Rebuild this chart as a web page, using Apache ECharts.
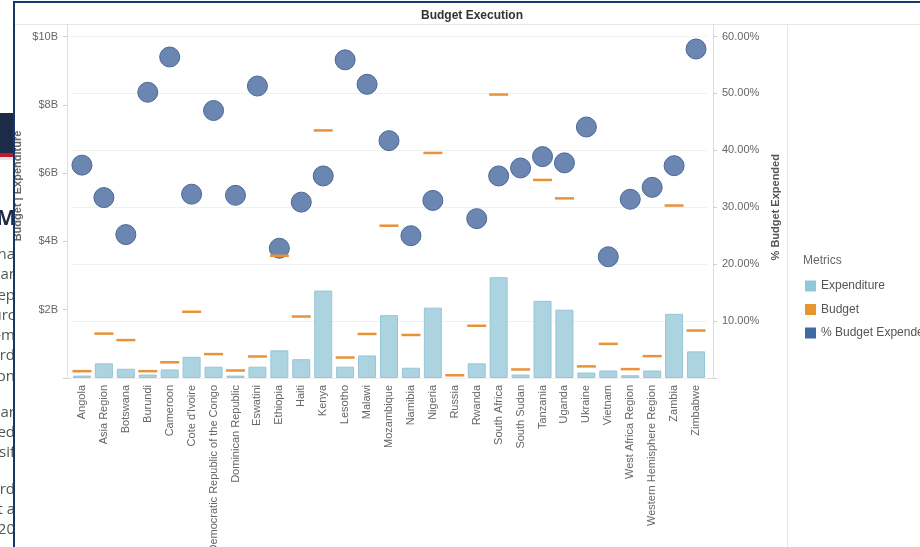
<!DOCTYPE html>
<html>
<head>
<meta charset="utf-8">
<script src="https://cdn.jsdelivr.net/npm/echarts@6/dist/echarts.min.js"></script>
<style>
  html, body { margin: 0; padding: 0; background: #fff; overflow: hidden; }
  #chart { position: absolute; left: 0; top: 0; width: 920px; height: 547px; }
  #strip { position: absolute; left: 0; top: 0; width: 13px; height: 547px; overflow: hidden; background: #fff; z-index: 5; }
  #strip .navy { position: absolute; left: 0; top: 113px; width: 13px; height: 40px; background: #1c2b48; }
  #strip .red { position: absolute; left: 0; top: 153px; width: 13px; height: 4px; background: #c0172d; }
  #strip .grey { position: absolute; left: 0; top: 157px; width: 13px; height: 3px; background: #e4e4e4; }
  #strip .ln { position: absolute; right: -2px; white-space: nowrap; font-family: "Open Sans", sans-serif; font-size: 15px; color: #555; line-height: 20px; }
  #strip .big { position: absolute; right: -3px; top: 205px; white-space: nowrap; font-family: "Open Sans", sans-serif; font-size: 21px; font-weight: 700; color: #1c2b48; line-height: 24px; }
  .frameV { position: absolute; left: 13px; top: 1px; width: 2px; height: 546px; background: #17366b; z-index: 6; }
  .frameH { position: absolute; left: 13px; top: 1px; width: 907px; height: 2px; background: #17366b; z-index: 6; }
  .behind { position: absolute; left: 17px; top: 186px; width: 0; height: 0; z-index: 4; }
  .behind span { position: absolute; left: 0; top: 0; transform: translate(-50%, -50%) rotate(-90deg); white-space: nowrap; font-family: "Liberation Sans", Arial, sans-serif; font-size: 11px; font-weight: 700; color: #666; }
</style>
</head>
<body>
<div id="chart"></div>
<div class="behind"><span>Budget | Expenditure</span></div>
<div id="strip">
  <div class="navy"></div><div class="red"></div><div class="grey"></div>
  <div class="big">M</div>
  <div class="ln" style="top:243px">na</div>
  <div class="ln" style="top:263px">lar</div>
  <div class="ln" style="top:284px">ep</div>
  <div class="ln" style="top:304px">urc</div>
  <div class="ln" style="top:324px">-m</div>
  <div class="ln" style="top:344px">rd</div>
  <div class="ln" style="top:365px">on</div>
  <div class="ln" style="top:401px">par</div>
  <div class="ln" style="top:421px">ed</div>
  <div class="ln" style="top:441px">sif</div>
  <div class="ln" style="top:478px">rd</div>
  <div class="ln" style="top:498px">t a</div>
  <div class="ln" style="top:518px">20</div>
</div>
<div class="frameV"></div>
<div class="frameH"></div>
<script>
// ---- data ----
var categories = ["Angola", "Asia Region", "Botswana", "Burundi", "Cameroon", "Cote d'Ivoire",
  "Democratic Republic of the Congo", "Dominican Republic", "Eswatini", "Ethiopia", "Haiti", "Kenya",
  "Lesotho", "Malawi", "Mozambique", "Namibia", "Nigeria", "Russia", "Rwanda", "South Africa",
  "South Sudan", "Tanzania", "Uganda", "Ukraine", "Vietnam", "West Africa Region",
  "Western Hemisphere Region", "Zambia", "Zimbabwe"];
// Expenditure, in billions of dollars
var expenditure = [0.07, 0.43, 0.27, 0.10, 0.25, 0.62, 0.33, 0.07, 0.33, 0.81, 0.55, 2.56,
  0.33, 0.66, 1.84, 0.30, 2.06, null, 0.43, 2.95, 0.10, 2.26, 2.00, 0.16, 0.22, 0.08, 0.22, 1.88, 0.78];
// Budget, in billions of dollars
var budget = [0.20, 1.30, 1.11, 0.20, 0.46, 1.94, 0.70, 0.22, 0.63, 3.58, 1.80, 7.25,
  0.60, 1.29, 4.46, 1.26, 6.59, 0.08, 1.53, 8.30, 0.25, 5.80, 5.26, 0.34, 1.00, 0.26, 0.64, 5.05, 1.39];
// % Budget Expended
var pctExpended = [37.4, 31.7, 25.2, 50.2, 56.4, 32.3, 47.0, 32.1, 51.3, 22.8, 30.9, 35.5,
  55.9, 51.6, 41.7, 25.0, 31.2, null, 28.0, 35.5, 36.9, 38.9, 37.8, 44.1, 21.3, 31.4, 33.5, 37.3, 57.8];
var leftTicks = { min: 0, max: 10, interval: 2 };   // $B
var rightTicks = { min: 0, max: 60, interval: 10 }; // %

var FONT = '"Liberation Sans", Arial, sans-serif';
var chart = echarts.init(document.getElementById('chart'), null, { renderer: 'canvas' });
var lineStyle = { stroke: '#dedede', lineWidth: 1 };
chart.setOption({
  animation: false,
  backgroundColor: '#fff',
  textStyle: { fontFamily: FONT },
  title: {
    text: 'Budget Execution', left: 467, top: 5, textAlign: 'center',
    textStyle: { fontFamily: FONT, fontSize: 12, fontWeight: 'bold', color: '#333' }
  },
  grid: { left: 71, right: 213, top: 36.5, bottom: 169, containLabel: false, outerBoundsMode: 'none' },
  legend: {
    orient: 'vertical', left: 805, top: 280, padding: 0, itemWidth: 11, itemHeight: 11, itemGap: 11.5,
    icon: 'rect', selectedMode: false,
    textStyle: { fontFamily: FONT, fontSize: 12, color: '#555' },
    data: [
      { name: 'Expenditure', itemStyle: { color: '#92c6da', borderWidth: 0 } },
      { name: 'Budget', itemStyle: { color: '#e8952e', borderWidth: 0 } },
      { name: '% Budget Expended', itemStyle: { color: '#3d6aa1', borderWidth: 0 } }
    ]
  },
  graphic: [
    { type: 'line', shape: { x1: 15, y1: 24.5, x2: 920, y2: 24.5 }, style: { stroke: '#e6e6e6', lineWidth: 1 }, silent: true },
    { type: 'line', shape: { x1: 67.5, y1: 24, x2: 67.5, y2: 379 }, style: lineStyle, silent: true },
    { type: 'line', shape: { x1: 713.5, y1: 24, x2: 713.5, y2: 379 }, style: lineStyle, silent: true },
    { type: 'line', shape: { x1: 67, y1: 378.5, x2: 714, y2: 378.5 }, style: lineStyle, silent: true },
    { type: 'line', shape: { x1: 787.5, y1: 24, x2: 787.5, y2: 547 }, style: { stroke: '#e6e6e6', lineWidth: 1 }, silent: true },
    { type: 'text', left: 803, top: 255, style: { text: 'Metrics', font: '12px ' + FONT, fill: '#666' }, silent: true }
  ],
  xAxis: {
    type: 'category', data: categories, boundaryGap: true,
    axisLine: { show: false }, axisTick: { show: false },
    axisLabel: { rotate: 90, interval: 0, margin: 7, fontSize: 11, color: '#666', fontFamily: FONT }
  },
  yAxis: [
    {
      type: 'value', min: leftTicks.min, max: leftTicks.max, interval: leftTicks.interval, offset: 4,
      axisLine: { show: false }, splitLine: { show: false },
      axisTick: { show: true, length: 4, lineStyle: { color: '#d0d0d0' } },
      axisLabel: { margin: 9, fontSize: 11, color: '#666', fontFamily: FONT,
        formatter: function (v) { return v === 0 ? '' : '$' + v + 'B'; } }
    },
    {
      type: 'value', position: 'right', min: rightTicks.min, max: rightTicks.max, interval: rightTicks.interval, offset: 6,
      name: '% Budget Expended', nameLocation: 'middle', nameGap: 57, nameRotate: 90,
      nameTextStyle: { fontFamily: FONT, fontSize: 11, fontWeight: 'bold', color: '#555' },
      axisLine: { show: false },
      splitLine: { show: true, lineStyle: { color: '#f0f0f0', width: 1 } },
      axisTick: { show: true, length: 4, lineStyle: { color: '#d0d0d0' } },
      axisLabel: { margin: 9, fontSize: 11, color: '#666', fontFamily: FONT,
        formatter: function (v) { return v === 0 ? '' : v.toFixed(2) + '%'; } }
    }
  ],
  series: [
    {
      name: 'Expenditure', type: 'bar', yAxisIndex: 0, data: expenditure, barWidth: 18, z: 2,
      itemStyle: { color: '#abd4e0', borderColor: '#96c5d6', borderWidth: 1 }
    },
    {
      name: '% Budget Expended', type: 'scatter', yAxisIndex: 1, data: pctExpended, symbol: 'circle', symbolSize: 20, z: 3,
      itemStyle: { color: '#6a86b1', borderColor: '#4a6897', borderWidth: 1, opacity: 1 }
    },
    {
      name: 'Budget', type: 'scatter', yAxisIndex: 0, data: budget, symbol: 'rect', symbolSize: [19, 2.5], z: 4,
      itemStyle: { color: '#e8923a', opacity: 1 }
    }
  ]
});
</script>
</body>
</html>
